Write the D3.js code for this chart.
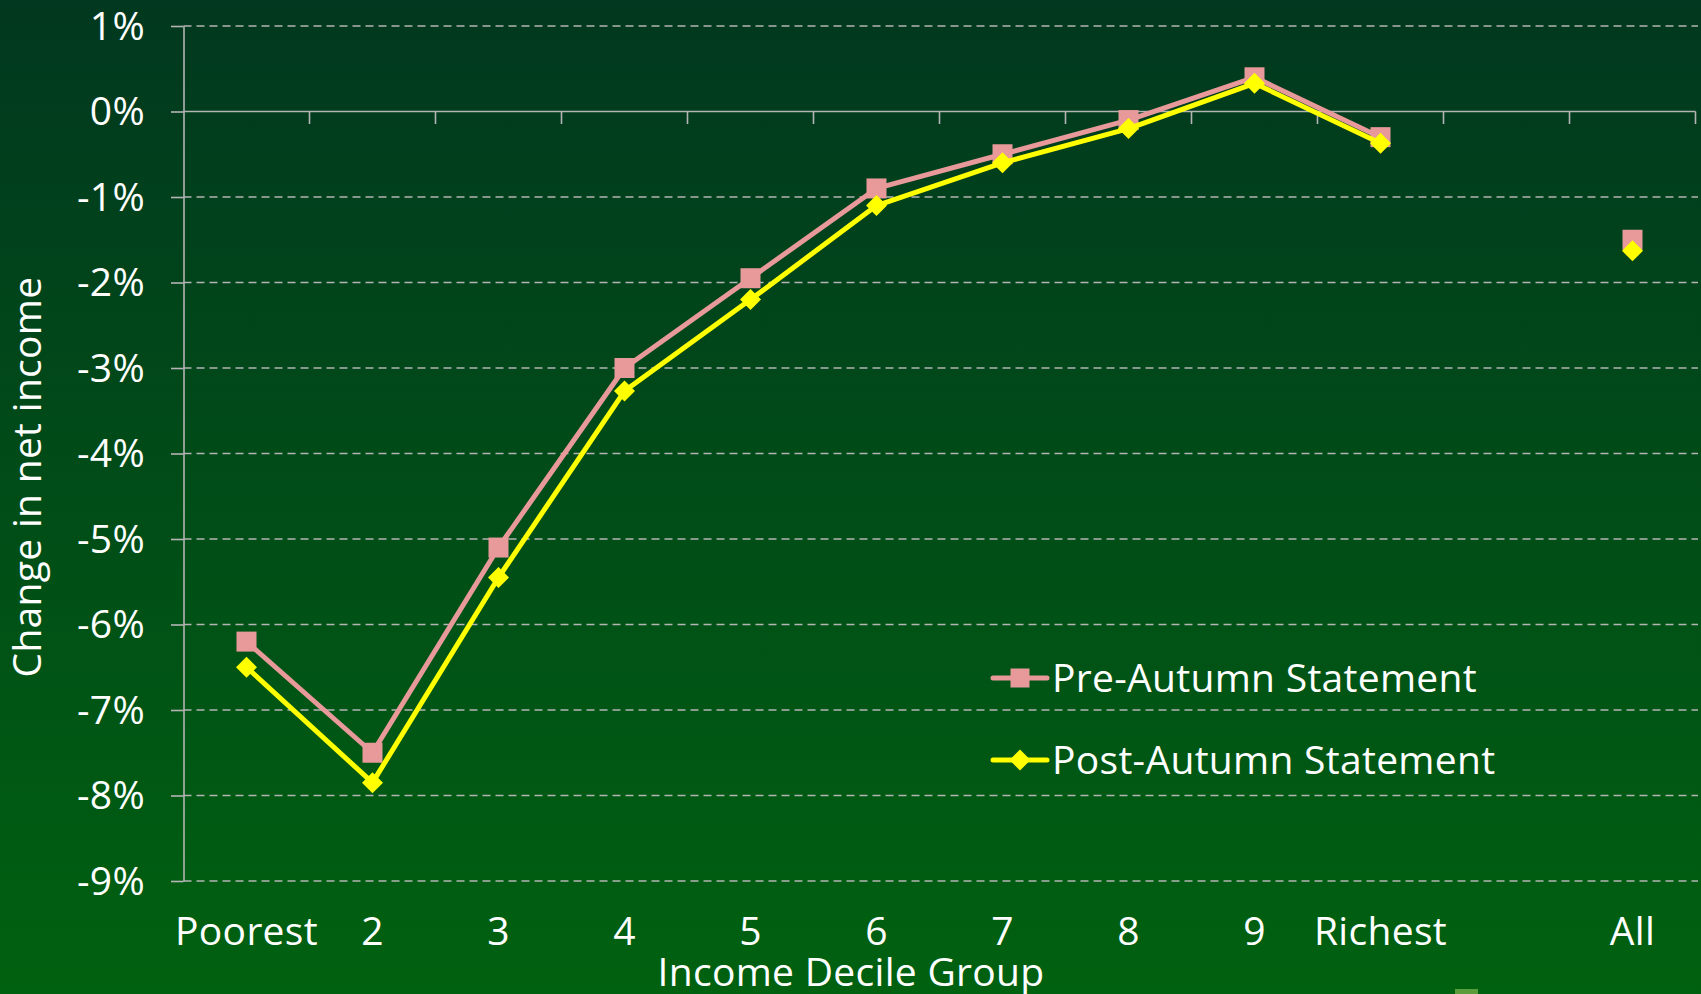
<!DOCTYPE html>
<html>
<head>
<meta charset="utf-8">
<script src="https://cdn.jsdelivr.net/npm/d3@7"></script>
<style>
  html, body { margin: 0; padding: 0; background: #004c18; }
  svg { display: block; }
  text { font-family: "Open Sans", "Noto Sans", sans-serif; fill: #ffffff; letter-spacing: 0.3px; }
</style>
</head>
<body>
<svg id="chart" width="1701" height="994"></svg>
<script>
// Income decile groups (the empty slot keeps a gap before "All")
const categories = ["Poorest", "2", "3", "4", "5", "6", "7", "8", "9", "Richest", " ", "All"];
const deciles = ["Poorest", "2", "3", "4", "5", "6", "7", "8", "9", "Richest"];

// Change in net income, % (deciles 1–10)
const preAutumn  = [-6.2, -7.5, -5.1, -3.0, -1.95, -0.9, -0.5, -0.1, 0.4, -0.3];
const postAutumn = [-6.5, -7.85, -5.45, -3.27, -2.2, -1.1, -0.6, -0.2, 0.33, -0.37];

// Whole-population averages
const preAll = -1.5;
const postAll = -1.63;

const yTicks = [1, 0, -1, -2, -3, -4, -5, -6, -7, -8, -9];
const seriesNames = ["Pre-Autumn Statement", "Post-Autumn Statement"];

const W = 1701, H = 994;
const FS = 39;
const svg = d3.select("#chart");

// Background: dark green at the top fading to a brighter green at the bottom
const defs = svg.append("defs");
const grad = defs.append("linearGradient")
  .attr("id", "bg").attr("x1", 0).attr("y1", 0).attr("x2", 0).attr("y2", 1);
grad.append("stop").attr("offset", "0%").attr("stop-color", "#01381f");
grad.append("stop").attr("offset", "100%").attr("stop-color", "#006110");
svg.append("rect").attr("width", W).attr("height", H).attr("fill", "url(#bg)");

const plotLeft = 183.5, plotRight = 1695.5, plotTop = 26, plotBottom = 881;

const x = d3.scaleBand().domain(categories).range([plotLeft, plotRight]).padding(0);
const cx = c => x(c) + x.bandwidth() / 2;
const y = d3.scaleLinear().domain([-9, 1]).range([plotBottom, plotTop]);

const gridColor = "#b4b4b4";

// Dashed horizontal gridlines
svg.append("g").selectAll("line")
  .data(yTicks.filter(d => d !== 0))
  .join("line")
  .attr("x1", plotLeft).attr("x2", W - 3)
  .attr("y1", d => y(d)).attr("y2", d => y(d))
  .attr("stroke", gridColor).attr("stroke-width", 1.6)
  .attr("stroke-dasharray", "8,5");

// Y axis with outward ticks and percentage labels
const yAxis = d3.axisLeft(y)
  .tickValues(yTicks)
  .tickSize(12.5)
  .tickSizeOuter(0)
  .tickPadding(26)
  .tickFormat(d => d + "%");
const gy = svg.append("g").attr("transform", `translate(${plotLeft},0)`).call(yAxis);
gy.select(".domain").attr("stroke", gridColor).attr("stroke-width", 1.6);
gy.selectAll(".tick line").attr("stroke", gridColor).attr("stroke-width", 1.6);
gy.selectAll(".tick text")
  .attr("font-size", FS).attr("font-family", null)
  .attr("dy", "0.34em").attr("fill", "#ffffff");

// Horizontal axis along the 0% line, ticks between categories
const boundaries = categories.map(c => x(c) + x.bandwidth()).filter(v => v > plotLeft);
svg.append("line")
  .attr("x1", plotLeft).attr("x2", plotRight)
  .attr("y1", y(0)).attr("y2", y(0))
  .attr("stroke", gridColor).attr("stroke-width", 1.6);
svg.append("g").selectAll("line")
  .data(boundaries)
  .join("line")
  .attr("x1", d => d).attr("x2", d => d)
  .attr("y1", y(0)).attr("y2", y(0) + 12.5)
  .attr("stroke", gridColor).attr("stroke-width", 1.6);

// Category labels below the plot
svg.append("g").selectAll("text")
  .data(categories)
  .join("text")
  .attr("x", d => cx(d)).attr("y", 945)
  .attr("text-anchor", "middle")
  .attr("font-size", FS)
  .text(d => d);

// Axis titles
svg.append("text")
  .attr("x", 851).attr("y", 986)
  .attr("text-anchor", "middle").attr("font-size", FS)
  .text("Income Decile Group");
svg.append("text")
  .attr("transform", "translate(41,477) rotate(-90)")
  .attr("text-anchor", "middle").attr("font-size", FS)
  .text("Change in net income");

// Series styling
const pink = "#e8999a", yellow = "#ffff00";
const squareSize = 20, diamondR = 10.5;
const diamondPath = `M0,${-diamondR}L${diamondR},0L0,${diamondR}L${-diamondR},0Z`;

const line = d3.line().x(d => cx(d.c)).y(d => y(d.v));
const preData = deciles.map((c, i) => ({ c, v: preAutumn[i] })).concat([{ c: "All", v: preAll }]);
const postData = deciles.map((c, i) => ({ c, v: postAutumn[i] })).concat([{ c: "All", v: postAll }]);

// Pre-Autumn Statement: line then square markers
svg.append("path")
  .datum(preData.filter(d => d.c !== "All"))
  .attr("d", line)
  .attr("fill", "none").attr("stroke", pink).attr("stroke-width", 5)
  .attr("stroke-linejoin", "round");
svg.append("g").selectAll("rect")
  .data(preData)
  .join("rect")
  .attr("x", d => cx(d.c) - squareSize / 2).attr("y", d => y(d.v) - squareSize / 2)
  .attr("width", squareSize).attr("height", squareSize)
  .attr("fill", pink);

// Post-Autumn Statement: line then diamond markers
svg.append("path")
  .datum(postData.filter(d => d.c !== "All"))
  .attr("d", line)
  .attr("fill", "none").attr("stroke", yellow).attr("stroke-width", 5)
  .attr("stroke-linejoin", "round");
svg.append("g").selectAll("path")
  .data(postData)
  .join("path")
  .attr("transform", d => `translate(${cx(d.c)},${y(d.v)})`)
  .attr("d", diamondPath)
  .attr("fill", yellow);

// Legend
const legend = svg.append("g");
const legendRows = [
  { name: seriesNames[0], color: pink, ly: 678, marker: "square" },
  { name: seriesNames[1], color: yellow, ly: 760, marker: "diamond" }
];
legendRows.forEach(r => {
  legend.append("line")
    .attr("x1", 993).attr("x2", 1047).attr("y1", r.ly).attr("y2", r.ly)
    .attr("stroke", r.color).attr("stroke-width", 5).attr("stroke-linecap", "round");
  if (r.marker === "square") {
    legend.append("rect")
      .attr("x", 1020 - 9.5).attr("y", r.ly - 9.5)
      .attr("width", 19).attr("height", 19).attr("fill", r.color);
  } else {
    legend.append("path")
      .attr("transform", `translate(1020,${r.ly})`)
      .attr("d", diamondPath).attr("fill", r.color);
  }
  legend.append("text")
    .attr("x", 1052).attr("y", r.ly + 14)
    .attr("font-size", FS)
    .text(r.name);
});

// Small badge fragment at the bottom edge
svg.append("rect")
  .attr("x", 1455).attr("y", 989).attr("width", 23).attr("height", 5)
  .attr("fill", "#5c9c3c");
</script>
</body>
</html>
